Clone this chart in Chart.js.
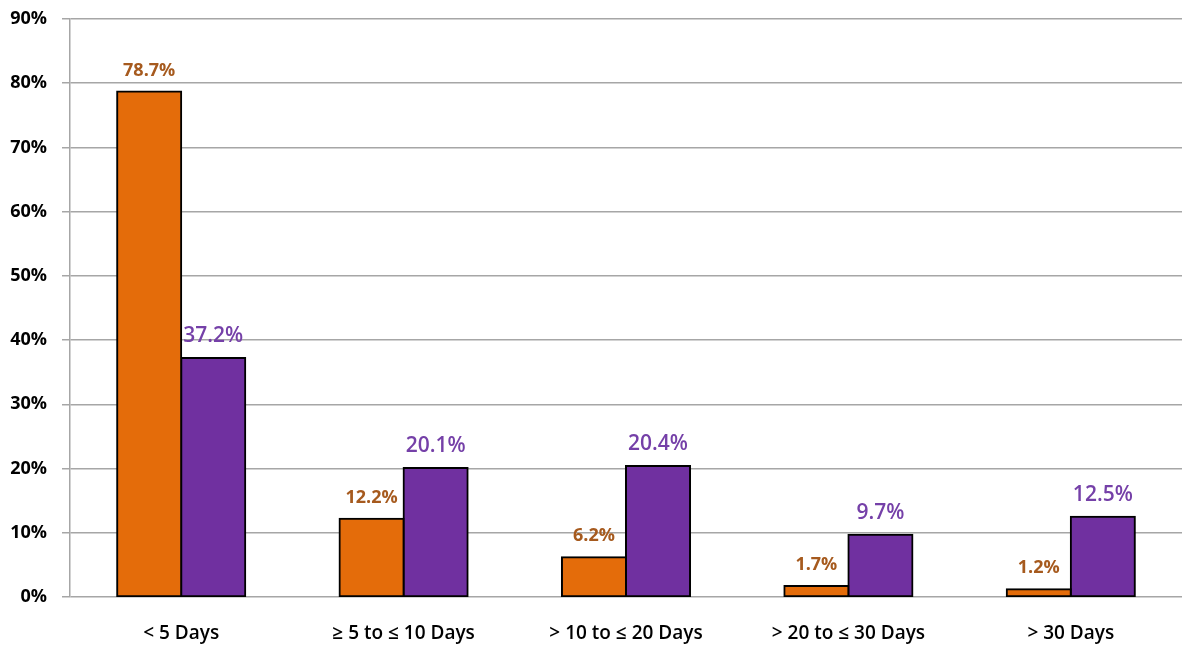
<!DOCTYPE html>
<html>
<head>
<meta charset="utf-8">
<script src="https://cdn.jsdelivr.net/npm/chart.js@4"></script>
<style>
  html, body { margin: 0; padding: 0; background: #fff; }
  #wrap { width: 1182px; height: 645px; position: relative; }
</style>
</head>
<body>
<div id="wrap"><canvas id="days-chart"></canvas></div>
<script>
// Data
const categories = ["< 5 Days", "\u2265 5 to \u2264 10 Days", "> 10 to \u2264 20 Days", "> 20 to \u2264 30 Days", "> 30 Days"];
const orangeValues = [78.7, 12.2, 6.2, 1.7, 1.2];
const purpleValues = [37.2, 20.1, 20.4, 9.7, 12.5];
const yTicks = [0, 10, 20, 30, 40, 50, 60, 70, 80, 90];

const COLORS = {
    orange: "#E46C0A",
    purple: "#7030A0",
    orangeLabel: "#A65A1E",
    purpleLabel: "#7540A8",
    grid: "#A6A6A6",
};

// draws the value above each bar
const valueLabels = {
    id: "valueLabels",
    afterDatasetsDraw(chart) {
        const ctx = chart.ctx;
        chart.data.datasets.forEach((ds, i) => {
            const meta = chart.getDatasetMeta(i);
            ctx.save();
            ctx.fillStyle = ds.labelColor;
            ctx.font = ds.labelFont;
            ctx.textAlign = "center";
            ctx.textBaseline = "alphabetic";
            meta.data.forEach((bar, j) => {
                ctx.fillText(ds.data[j].toFixed(1) + "%", bar.x, bar.y - 16);
            });
            ctx.restore();
        });
    },
};

new Chart(document.getElementById("days-chart"), {
    type: "bar",
    data: {
        labels: categories,
        datasets: [
            {
                data: orangeValues,
                backgroundColor: COLORS.orange,
                borderColor: "#000",
                borderWidth: 2,
                borderSkipped: false,
                inflateAmount: 1,
                labelColor: COLORS.orangeLabel,
                labelFont: "bold 18px 'Open Sans'",
            },
            {
                data: purpleValues,
                backgroundColor: COLORS.purple,
                borderColor: "#000",
                borderWidth: 2,
                borderSkipped: false,
                inflateAmount: 1,
                labelColor: COLORS.purpleLabel,
                labelFont: "600 21px 'Open Sans'",
            },
        ],
    },
    options: {
        responsive: true,
        maintainAspectRatio: false,
        animation: false,
        layout: { padding: { top: 19, right: 0, left: 0, bottom: 0 } },
        categoryPercentage: 0.576,
        barPercentage: 1,
        plugins: {
            legend: { display: false },
            tooltip: { enabled: false },
        },
        scales: {
            x: {
                grid: { display: false },
                border: { display: false },
                afterFit: (scale) => {
                    scale.height = 48;
                },
                ticks: {
                    color: "#000",
                    font: { family: "Open Sans", size: 19, weight: 600 },
                    padding: 17,
                    maxRotation: 0,
                },
            },
            y: {
                min: 0,
                max: 90,
                afterBuildTicks: (axis) => {
                    axis.ticks = yTicks.map((v) => ({ value: v }));
                },
                afterFit: (scale) => {
                    scale.width = 70;
                    scale.paddingTop = 10;
                },
                grid: {
                    color: COLORS.grid,
                    lineWidth: 1.5,
                    tickLength: 8,
                },
                border: { color: COLORS.grid, width: 1.5 },
                ticks: {
                    color: "#000",
                    font: { family: "Open Sans", size: 18, weight: "bold" },
                    padding: 15,
                    callback: (v) => v + "%",
                },
            },
        },
    },
    plugins: [valueLabels],
});
</script>
</body>
</html>
